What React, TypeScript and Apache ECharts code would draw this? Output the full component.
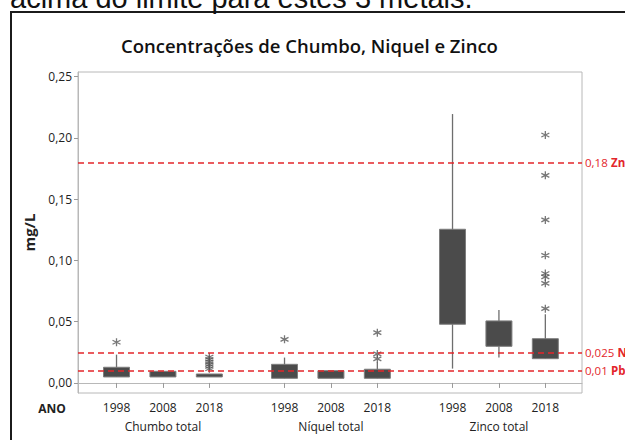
import React, { useEffect, useRef } from "react";
import * as echarts from "echarts";

// ---- data ----
const GROUPS = ["Chumbo total", "Níquel total", "Zinco total"];
const YEARS = ["1998", "2008", "2018"];
// box stats per year: [whisker low, Q1, Q3, whisker high]
const CHUMBO_BOX = [
  [0.0049, 0.0049, 0.0128, 0.0231],
  [0.0049, 0.0049, 0.0095, 0.0095],
  [0.0049, 0.0049, 0.0073, 0.0073],
];
const NIQUEL_BOX = [
  [0.0038, 0.0038, 0.0152, 0.0207],
  [0.0038, 0.0038, 0.01, 0.01],
  [0.0038, 0.0038, 0.0112, 0.0166],
];
const ZINCO_BOX = [
  [0.0117, 0.0479, 0.1254, 0.2194],
  [0.0207, 0.0299, 0.0506, 0.0595],
  [0.0198, 0.0198, 0.0361, 0.056],
];
const CHUMBO_OUT = [[0.0332], [], [0.0212, 0.0192, 0.0172, 0.0152, 0.0134, 0.0116]];
const NIQUEL_OUT = [[0.0356], [], [0.041, 0.0237, 0.0196]];
const ZINCO_OUT = [[], [], [0.2023, 0.1694, 0.133, 0.1041, 0.0893, 0.0865, 0.0813, 0.0606]];
const Y_TICKS = [0, 0.05, 0.1, 0.15, 0.2, 0.25];
const LIMIT_VALUES = [0.18, 0.025, 0.01];
const LIMIT_TEXT = ["0,18", "0,025", "0,01"];
const LIMIT_NAMES = ["Zn", "Ni", "Pb"];
const TITLE = "Concentrações de Chumbo, Niquel e Zinco";
const HEADER_TEXT = "acima do limite para estes 3 metais.";

// ---- layout ----
const GROUP_GAP = 0.62;
const BOX_W = 0.56;
const FONT = '"Open Sans", "Noto Sans", sans-serif';
const pos = (g: number, i: number) => 1 + g * (3 + GROUP_GAP) + i;

export default function App() {
  const ref = useRef<HTMLDivElement>(null);
  useEffect(() => {
    if (!ref.current) return;
    const chart = echarts.init(ref.current, null, { renderer: "svg" });
    const boxSets = [CHUMBO_BOX, NIQUEL_BOX, ZINCO_BOX];
    const outSets = [CHUMBO_OUT, NIQUEL_OUT, ZINCO_OUT];
    const boxData: number[][] = [];
    const outData: number[][] = [];
    const positions: number[] = [];
    const groupCenters = GROUPS.map((_, g) => pos(g, 1));
    boxSets.forEach((set, g) =>
      set.forEach((b, i) => {
        positions.push(pos(g, i));
        boxData.push([pos(g, i), ...b]);
        outSets[g][i].forEach((v) => outData.push([pos(g, i), v]));
      })
    );
    const nearest = (arr: number[], v: number) => {
      let best = 0;
      arr.forEach((p, k) => {
        if (Math.abs(p - v) < Math.abs(arr[best] - v)) best = k;
      });
      return best;
    };
    const red = "#e3262b";
    const fmt = (v: number) => v.toFixed(2).replace(".", ",");
    const xBase = {
      type: "value",
      min: 0.17,
      max: 11.03,
      position: "bottom",
      splitLine: { show: false },
    };

    chart.setOption({
      animation: false,
      backgroundColor: "#ffffff",
      title: {
        text: TITLE,
        left: 116,
        top: 31,
        textStyle: { fontFamily: FONT, fontSize: 18.5, fontWeight: 600, color: "#111" },
      },
      graphic: [
        {
          type: "rect",
          shape: { x: 11, y: 12, width: 800, height: 600 },
          style: { fill: "none", stroke: "#1b1b1b", lineWidth: 2 },
          silent: true,
        },
        {
          type: "text",
          style: {
            text: HEADER_TEXT,
            x: 10,
            y: -2,
            verticalAlign: "middle",
            font: '29px "Liberation Sans", Arial, sans-serif',
            fill: "#111",
          },
        },
        {
          type: "text",
          style: {
            text: "ANO",
            x: 52,
            y: 408,
            align: "center",
            verticalAlign: "middle",
            font: `bold 12px ${FONT}`,
            fill: "#222",
          },
        },
      ],
      grid: {
        left: 78,
        right: 43,
        top: 72,
        bottom: 47,
        show: true,
        borderColor: "#b8b8b8",
        borderWidth: 1,
        backgroundColor: "#fff",
      },
      xAxis: [
        {
          ...xBase,
          axisLine: { show: true, lineStyle: { color: "#b8b8b8" } },
          axisTick: { show: true, customValues: positions, length: 5, lineStyle: { color: "#9a9a9a" } },
          axisLabel: {
            customValues: positions,
            showMinLabel: true,
            showMaxLabel: true,
            hideOverlap: false,
            formatter: (v: number) => YEARS[nearest(positions, v) % 3],
            fontFamily: FONT,
            fontSize: 12,
            color: "#222",
            lineHeight: 19,
            margin: 5,
          },
        },
        {
          ...xBase,
          axisLine: { show: false },
          axisTick: { show: false },
          axisLabel: {
            customValues: groupCenters,
            showMinLabel: true,
            showMaxLabel: true,
            hideOverlap: false,
            formatter: (v: number) => GROUPS[nearest(groupCenters, v)],
            fontFamily: FONT,
            fontSize: 12,
            color: "#222",
            lineHeight: 19,
            margin: 24,
          },
        },
      ],
      yAxis: {
        type: "value",
        min: -0.0082,
        max: 0.2537,
        name: "mg/L",
        nameLocation: "middle",
        nameRotate: 90,
        nameGap: 42,
        nameTextStyle: { fontFamily: FONT, fontSize: 15, fontWeight: "bold", color: "#222" },
        splitLine: { show: false },
        axisLine: { show: true, lineStyle: { color: "#b8b8b8" } },
        axisTick: { show: true, customValues: Y_TICKS, length: 4, lineStyle: { color: "#9a9a9a" } },
        axisLabel: {
          customValues: Y_TICKS,
          showMinLabel: true,
          showMaxLabel: true,
          formatter: (v: number) => fmt(v),
          fontFamily: FONT,
          fontSize: 12,
          color: "#222",
          margin: 6,
        },
      },
      series: [
        {
          type: "line",
          data: [],
          z: 1,
          silent: true,
          markLine: {
            symbol: "none",
            silent: true,
            precision: 4,
            lineStyle: { color: red, type: [6, 4], width: 1.5 },
            label: {
              position: "end",
              distance: 3,
              formatter: (p: any) => `{v|${LIMIT_TEXT[p.dataIndex]}} {n|${LIMIT_NAMES[p.dataIndex]}}`,
              rich: {
                v: { color: red, fontFamily: FONT, fontSize: 11.5 },
                n: { color: red, fontFamily: FONT, fontSize: 11.5, fontWeight: "bold" },
              },
            },
            data: LIMIT_VALUES.map((v) => ({ yAxis: v })),
          },
        },
        {
          type: "custom",
          z: 3,
          data: boxData,
          renderItem: (_params: any, api: any) => {
            const x = api.value(0);
            const pLo = api.coord([x, api.value(1)]);
            const pQ1 = api.coord([x, api.value(2)]);
            const pQ3 = api.coord([x, api.value(3)]);
            const pHi = api.coord([x, api.value(4)]);
            const w = api.size([BOX_W, 0])[0];
            return {
              type: "group",
              children: [
                {
                  type: "line",
                  shape: { x1: pLo[0], y1: pLo[1], x2: pHi[0], y2: pHi[1] },
                  style: { stroke: "#6e6e6e", lineWidth: 1.3 },
                },
                {
                  type: "rect",
                  shape: { x: pQ3[0] - w / 2, y: pQ3[1], width: w, height: pQ1[1] - pQ3[1] },
                  style: { fill: "#4b4b4b", stroke: "#7d7d7d", lineWidth: 1 },
                },
              ],
            };
          },
        },
        {
          type: "scatter",
          z: 4,
          data: outData,
          symbol: "path://M5 0 L5 10 M0.67 2.5 L9.33 7.5 M0.67 7.5 L9.33 2.5",
          symbolSize: [8, 8],
          itemStyle: { color: "rgba(0,0,0,0)", borderColor: "#555", borderWidth: 1.3 },
        },
      ],
    });
    return () => chart.dispose();
  }, []);
  return (
    <div
      ref={ref}
      style={{ position: "fixed", left: 0, top: 0, width: 625, height: 440, background: "#fff" }}
    />
  );
}
